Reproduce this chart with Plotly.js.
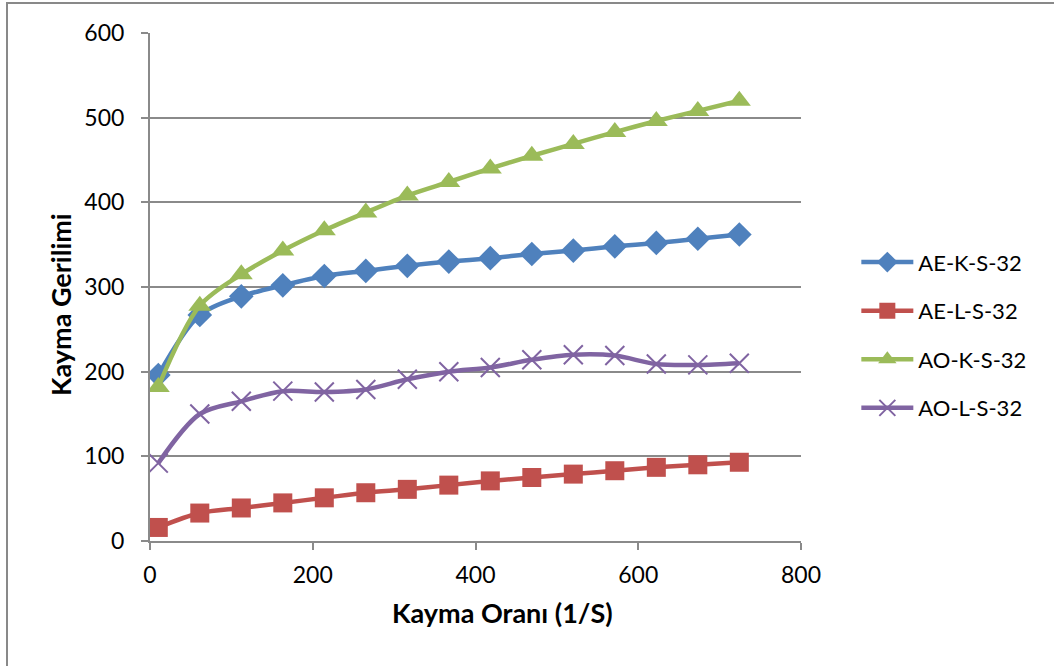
<!DOCTYPE html>
<html>
<head>
<meta charset="utf-8">
<script src="https://cdn.plot.ly/plotly-3.0.1.min.js"></script>
<style>html,body{margin:0;padding:0;background:#fff;}#chart{width:1054px;height:666px;}</style>
</head>
<body>
<div id="chart"></div>
<script>
const shearRate = [10.2, 61.2, 112.2, 163.2, 214.2, 265.2, 316.2, 367.2, 418.2, 469.2, 520.2, 571.2, 622.2, 673.2, 724.2];
const seriesNames = ["AE-K-S-32", "AE-L-S-32", "AO-K-S-32", "AO-L-S-32"];
const aeKS32 = [196, 267, 289, 302, 313, 319, 325, 330, 334, 339, 343, 348, 352, 357, 362];
const aeLS32 = [16, 33, 39, 45, 51, 57, 61, 66, 71, 75, 79, 83, 87, 90, 93];
const aoKS32 = [182, 278, 315, 343, 367, 388, 408, 424, 440, 455, 469, 483, 496, 508, 520];
const aoLS32 = [92, 150, 165, 177, 176, 179, 191, 200, 205, 214, 220, 219, 209, 208, 210];
const xTicks = [0, 200, 400, 600, 800];
const yTicks = [0, 100, 200, 300, 400, 500, 600];
const xTitle = "Kayma Oranı (1/S)";
const yTitle = "Kayma Gerilimi";

const colors = ["#4F81BD", "#C0504D", "#9BBB59", "#8064A2"];
const symbols = ["diamond", "square", "triangle-up", "x-thin-open"];
const sizes = [19, 19, 20, 19];
const ys = [aeKS32, aeLS32, aoKS32, aoLS32];

const traces = ys.map((y, i) => ({
  x: shearRate, y: y, name: seriesNames[i], type: "scatter", mode: "lines+markers",
  legendgroup: "g" + i,
  line: {color: colors[i], width: 4.5, shape: "spline", smoothing: 0.9},
  marker: {symbol: symbols[i], size: sizes[i], color: colors[i],
           line: {color: colors[i], width: i === 3 ? 2 : 0}}
}));

const FONT = "Lato, 'Open Sans', 'Liberation Sans', sans-serif";
const grid = "#8a8a8a";

const layout = {
  width: 1054, height: 666,
  margin: {l: 150, r: 253, t: 33, b: 125},
  paper_bgcolor: "#fff", plot_bgcolor: "#fff",
  font: {family: FONT, color: "#000", size: 23},
  showlegend: true,
  legend: {x: 1.085, xanchor: "left", y: 0.405, yanchor: "middle",
           font: {family: FONT, size: 22, color: "#000"},
           tracegroupgap: 17, traceorder: "grouped", itemwidth: 52, bgcolor: "rgba(0,0,0,0)"},
  xaxis: {range: [0, 800], tickvals: xTicks, ticktext: xTicks.map(String),
          showgrid: false, zeroline: false, showline: true, linecolor: grid, linewidth: 2,
          ticks: "outside", ticklen: 7, tickwidth: 2, tickcolor: grid,
          ticklabelstandoff: 5,
          tickfont: {family: FONT, size: 23, color: "#000"}, fixedrange: true},
  yaxis: {range: [0, 600], tickvals: yTicks, ticktext: yTicks.map(String),
          showgrid: true, gridcolor: grid, gridwidth: 2, zeroline: false,
          showline: true, linecolor: grid, linewidth: 2,
          ticks: "outside", ticklen: 7, tickwidth: 2, tickcolor: grid,
          ticklabelstandoff: 12,
          tickfont: {family: FONT, size: 23, color: "#000"}, fixedrange: true},
  annotations: [
    {text: "<b>" + xTitle + "</b>", xref: "paper", yref: "paper",
     x: (503 - 150) / 651, y: (541 - 612) / 508, xanchor: "center", yanchor: "middle",
     showarrow: false, font: {family: FONT, size: 27, color: "#000"}},
    {text: "<b>" + yTitle + "</b>", xref: "paper", yref: "paper",
     x: (61 - 150) / 651, y: (541 - 305) / 508, xanchor: "center", yanchor: "middle",
     textangle: -90, showarrow: false, font: {family: FONT, size: 27, color: "#000"}}
  ],
  shapes: [
    {type: "rect", xref: "paper", yref: "paper",
     x0: (7 - 150) / 651, x1: 2, y0: -1, y1: (541 - 3) / 508,
     line: {color: "#898989", width: 2}, fillcolor: "rgba(0,0,0,0)", layer: "below"}
  ]
};

Plotly.newPlot("chart", traces, layout, {displayModeBar: false, staticPlot: true});
</script>
</body>
</html>
